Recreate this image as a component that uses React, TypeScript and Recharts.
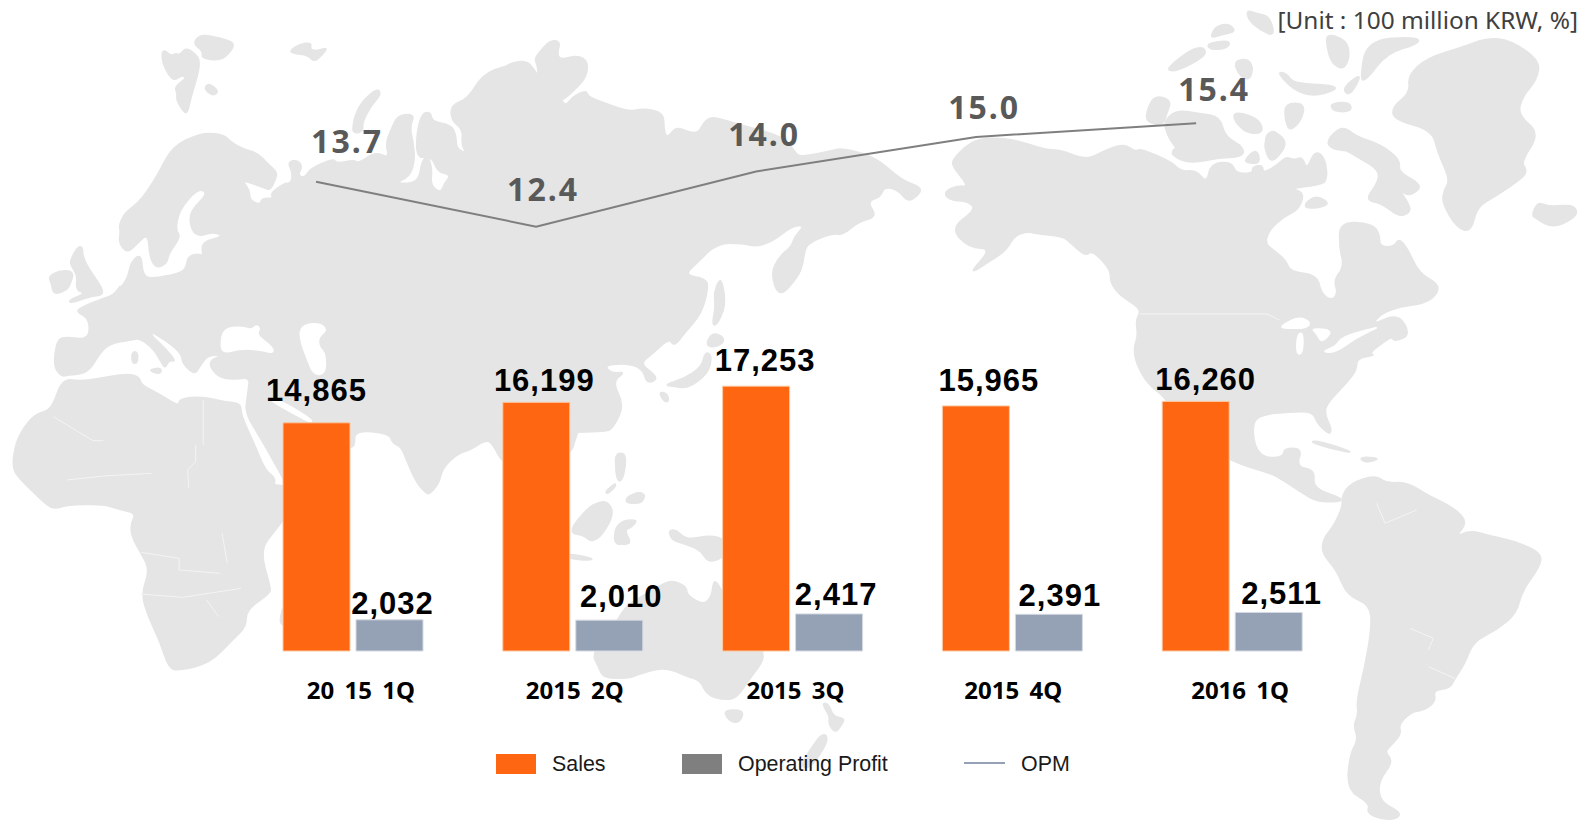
import { Bar, ComposedChart, LabelList, Line, XAxis, YAxis } from "recharts";

// chart values
const quarters = ["20 15 1Q", "2015 2Q", "2015 3Q", "2015 4Q", "2016 1Q"];
const sales = [14865, 16199, 17253, 15965, 16260];
const operatingProfit = [2032, 2010, 2417, 2391, 2511];
const opm = [13.7, 12.4, 14.0, 15.0, 15.4];
const quarterIndex = [0, 1, 2, 3, 4];

// label nudges, the labels in the picture were placed by hand
const salesLabelShift = [[0, -32], [8, -22], [9, -26], [13, -25], [10, -22]];
const profitLabelShift = [[3, -16], [12, -24], [7, -19], [11, -19], [13, -19]];
const opmLabelShift = [[31, -41], [7, -38], [8, -38], [8, -30], [18, -35]];
const tickShift = [8, 2, 3, 1, 8];

const chartData = quarters.map((q, i) => ({
  quarter: q,
  idx: quarterIndex[i],
  sales: sales[i],
  profit: operatingProfit[i],
  opm: opm[i],
}));

const GREY_FONT = "'Noto Sans', sans-serif";
const ARIAL = "'Liberation Sans', Arial, sans-serif";

// background world map, traced by eye, one block per traced area
const mapRegions = [
  {
    // Europe, west Russia
    x: 0, y: 20, sx: 1 / 2.904, sy: 1 / 3,
    land: [
      "345,620 360,580 400,550 430,510 460,460 490,400 520,370 560,350 600,338 650,345 670,365 700,385 750,400 775,430 805,455 800,480 785,510 770,505 700,478 725,510 725,540 755,555 760,535 795,535 785,520 825,490 845,490 850,460 835,425 865,420 878,440 865,465 885,475 900,445 970,415 975,430 1030,420 1040,430 1090,395 1130,415 1120,370 1135,330 1155,285 1205,282 1190,320 1200,370 1205,420 1190,470 1145,490 1215,490 1225,420 1245,410 1255,450 1250,495 1280,520 1290,490 1310,465 1270,455 1255,410 1210,415 1210,340 1225,280 1250,275 1255,305 1310,315 1325,345 1325,385 1355,400 1340,375 1345,330 1310,300 1310,255 1360,235 1400,165 1470,135 1530,145 1560,175 1568,175 1568,1200 780,1200 730,1130 725,1072 690,1078 640,1075 612,1045 610,1020 650,1005 625,1005 600,1010 580,1040 565,1065 530,1030 528,1005 500,975 445,938 438,945 480,985 512,1025 490,1020 480,1045 470,1030 445,985 405,955 380,960 320,970 290,1000 255,1060 195,1065 180,1070 155,1040 165,960 190,950 258,960 260,895 220,875 240,860 300,835 330,825 355,790 330,825 370,780 380,725 410,700 415,770 450,775 520,760 540,745 545,710 575,700 590,710 585,665 650,650 620,635 580,650 555,630 550,575 605,520 575,505 520,570 510,630 525,650 490,700 485,730 455,745 435,715 430,640 400,670 370,700 345,670 350,630",
      "470,95 480,92 497,108 510,100 522,105 540,82 575,108 580,135 570,180 555,230 545,278 535,278 512,240 515,220 508,205 520,190 540,175 530,165 505,182 490,165 472,130",
      "560,70 580,45 615,48 665,62 680,72 670,95 640,122 585,115 590,95",
      "595,200 608,190 635,212 622,228 600,215",
      "842,92 870,72 905,68 900,90 925,92 950,82 940,100 912,127 895,105 850,100",
      "1025,320 1030,290 1050,245 1095,205 1108,222 1075,260 1052,310 1055,330 1040,340 1025,335",
      "205,720 225,680 240,680 240,710 260,750 295,800 300,825 260,830 205,850 200,840 250,820 220,810 225,765 205,735",
      "140,770 175,750 215,755 205,790 195,810 155,825 150,790",
      "383,995 400,995 400,1030 383,1030",
      "428,1050 470,1042 466,1064",
    ],
    water: [
      "640,975 650,925 700,920 730,930 745,915 755,925 745,945 790,980 795,1000 760,990 700,985 650,1000",
      "870,930 890,912 930,910 950,930 925,950 925,980 945,1000 945,1062 910,1065 890,1010 875,970",
    ],
    lines: [],
  },
  {
    // Africa, Arabia, India
    x: 0, y: 390, sx: 1 / 2.904, sy: 1 / 3,
    land: [
      "180,-35 150,60 105,70 70,110 45,160 35,235 60,270 95,305 135,345 160,357 195,345 300,342 345,358 395,370 380,400 382,440 410,490 435,540 410,610 430,680 465,755 490,835 520,842 610,820 680,745 715,710 715,660 785,610 785,590 755,480 800,420 830,380 830,290 810,285 795,285 800,265 770,240 740,165 700,75 700,40 650,35 590,20 520,25 520,50 460,10 410,-15 405,-40 365,-50 240,-25",
      "718,20 725,-35 730,-60 1568,-60 1568,200 1464,230 1430,160 1410,150 1365,180 1330,190 1285,235 1275,280 1250,310 1240,312 1210,280 1180,210 1165,170 1140,160 1130,130 1030,120 1030,170 1016,170 830,290 820,260 800,225 760,150 712,70",
      "812,690 825,640 830,700 818,705",
    ],
    water: ["785,22 830,40 905,88 905,100 860,75 790,35"],
    lines: [
      "590,30 590,165",
      "568,165 568,215 545,240 548,295",
      "155,80 270,152 300,152",
      "195,270 300,258 440,250",
      "410,487 520,505 520,540 640,550",
      "408,612 530,622 700,595",
      "645,430 660,520",
      "600,630 635,680",
    ],
  },
  {
    // Siberia, far east
    x: 440, y: 30, sx: 1 / 2.904, sy: 1 / 3,
    land: [
      "0,1200 100,180 190,103 250,90 275,120 285,140 283,105 275,90 285,70 320,30 350,35 340,70 350,90 400,75 430,95 425,140 400,170 360,210 350,205 365,228 385,200 425,180 430,200 480,220 550,245 590,235 650,248 650,300 660,325 685,290 720,305 750,310 770,270 795,260 840,275 1000,320 1030,365 1045,380 1100,370 1145,360 1165,355 1230,370 1280,395 1340,450 1395,470 1395,490 1360,518 1330,480 1290,470 1280,500 1240,515 1270,560 1215,575 1170,615 1140,610 1090,630 1060,650 1055,700 1040,740 985,805 960,730 985,680 1020,650 1030,620 1060,585 1020,590 965,635 915,650 880,640 805,640 745,700 710,735 770,745 780,770 760,850 710,910 680,950 665,925 620,970 580,1000 620,1030 630,1050 600,1060 590,1020 550,1000 475,1005 500,1030 540,1025 500,1055 535,1125 505,1190 480,1210",
      "795,790 810,750 820,755 830,825 805,885 790,885 800,830",
      "770,950 790,905 830,925 810,950",
      "650,1065 710,1045 760,1010 770,965 790,975 780,1030 720,1075 680,1070",
      "635,1085 660,1090 665,1115 650,1115",
    ],
    water: [],
    lines: [],
  },
  {
    // South East Asia
    x: 250, y: 340, sx: 1 / 3, sy: 1 / 3,
    land: [
      "940,200 1000,230 975,300 965,335 940,340",
      "1095,345 1130,340 1120,420 1100,425",
      "1065,460 1095,430 1097,440 1075,460",
      "1125,480 1165,455 1185,465 1175,490 1135,490",
      "960,580 980,540 1040,480 1090,510 1080,515 1060,560 1030,610 1000,585",
      "1090,590 1110,550 1165,540 1140,565 1120,570 1145,610 1120,610 1100,615",
      "950,640 1030,655 1020,662 950,655",
    ],
    water: [],
    lines: [],
  },
  {
    // New Guinea, Australia, New Zealand
    x: 540, y: 440, sx: 1 / 3, sy: 1 / 3,
    land: [
      "385,270 410,270 440,300 510,285 560,300 560,345 520,365 500,360 480,330 430,310 395,300",
      "250,510 270,490 370,430 400,422 440,440 440,465 490,495 515,470 520,425 530,425 550,460 640,560 672,640 665,670 630,715 590,775 550,780 500,765 480,720 440,710 375,680 290,705 270,715 190,715 175,680 155,640 220,560",
      "553,810 610,810 605,840 585,850 560,835",
      "845,790 865,790 880,830 915,835 905,855 885,880 865,850 870,830",
      "780,980 810,930 845,880 865,890 850,930 810,985",
      "225,40 260,40 250,110 235,125 228,90",
      "195,155 225,130 228,135 205,160",
      "255,175 295,155 318,165 300,190 265,185",
      "110,250 140,210 190,178 220,205 210,250 165,310 120,280",
      "225,265 250,240 300,240 250,265 275,310 240,315 225,300",
    ],
    water: [],
    lines: [],
  },
  {
    // North America
    x: 940, y: 120, sx: 1 / 2.4, sy: 1 / 3,
    land: [
      "30,120 60,80 95,55 160,55 205,70 260,90 290,90 350,120 390,95 440,70 470,95 480,85 555,125 580,155 615,150 640,190 650,130 700,125 710,160 750,160 750,140 775,135 775,160 810,135 830,110 850,120 870,110 880,150 900,90 925,115 930,185 905,195 880,200 845,205 875,220 860,270 825,290 790,330 780,370 800,390 830,420 840,455 905,465 915,520 940,542 955,520 945,480 970,440 958,380 960,305 1035,310 1055,340 1055,380 1090,380 1100,355 1120,380 1150,460 1195,490 1195,520 1165,550 1105,560 1060,580 1035,615 1100,580 1130,645 1090,665 1085,650 1060,670 1030,700 1045,705 1000,715 1000,750 975,790 925,855 925,890 940,925 935,945 905,910 895,875 840,875 770,885 750,910 755,980 780,1015 825,1010 825,985 870,985 855,1040 900,1050 895,1105 965,1135 960,1145 905,1145 870,1120 810,1070 780,1055 700,1025 600,950 540,830 500,795 470,730 465,680 475,650 470,600 480,580 475,560 430,525 408,485 410,450 365,390 350,410 310,365 295,350 225,340 215,335 180,345 160,390 125,420 65,467 125,385 70,385 25,325 85,270 70,245 20,240 10,215 40,197 70,200 30,140",
      "925,65 965,15 1000,50 1060,75 1105,120 1100,155 1150,190 1150,210 1120,230 1095,195 1130,260 1125,280 1100,290 1060,250 1020,240 1050,190 1055,150 1000,110 975,90 945,90",
      "780,60 800,30 830,60 825,90 795,130 780,90",
      "730,120 760,85 770,130 740,130",
      "555,90 600,60 610,80 680,95 730,95 670,115 600,130 560,110",
      "875,250 905,225 940,255 880,268",
      "885,965 910,962 1000,1000 950,990",
      "1005,1010 1060,1015 1020,1030",
      "1420,285 1435,245 1460,260 1500,255 1525,260 1530,290 1470,325 1430,295",
    ],
    water: [
      "815,620 860,590 890,605 880,625 830,625",
      "858,640 872,640 870,702 855,702",
      "890,625 945,630 915,670 905,640",
      "915,695 950,680 965,650 1040,625 1052,622 1000,652 950,698",
      "180,380 190,345 220,340 215,360 190,380",
      "972,125 990,125 990,155 972,155",
    ],
    lines: ["480,582 785,582 815,600"],
  },
  {
    // Arctic islands
    x: 1100, y: 0, sx: 1 / 3, sy: 1 / 3,
    land: [
      "195,360 230,330 300,340 360,350 375,410 430,440 430,470 350,475 290,480 240,460 210,420 195,385",
      "135,350 160,285 215,300 200,340 190,375 150,370",
      "200,205 270,150 310,140 320,165 260,200 215,215",
      "320,130 390,120 385,145 330,150",
      "345,80 385,70 410,95 360,105 330,115",
      "440,30 470,40 510,50 525,110 480,90 445,60",
      "680,100 740,120 750,170 730,210 695,190 680,140",
      "780,240 800,120 950,110 960,130 860,160 800,240",
      "400,185 440,175 460,200 450,240 420,230",
      "530,215 560,220 580,250 700,255 710,270 640,290 580,270",
      "555,310 615,310 605,360 570,395 555,360",
      "725,265 790,215 750,290",
      "690,310 750,305 755,335 700,335",
      "400,340 430,340 480,360 490,400 440,400 405,365",
      "500,400 530,390 555,450 520,465 495,430",
    ],
    water: [],
    lines: [],
  },
  {
    // Greenland, already in page pixels
    x: 0, y: 0, sx: 1, sy: 1,
    land: [
      "1392,107 1410,93 1408,75 1427,58 1463,47 1487,38 1510,40 1540,60 1537,80 1522,97 1518,115 1540,133 1521,162 1527,170 1523,178 1494,197 1477,207 1471,232 1457,228 1442,203 1444,190 1450,180 1438,153 1432,130 1394,120",
    ],
    water: [],
    lines: [],
  },
  {
    // South America
    x: 1150, y: 450, sx: 1 / 3, sy: 1 / 3,
    land: [
      "575,140 600,100 675,75 710,100 770,95 840,140 900,165 955,215 915,262 960,240 1020,258 1100,275 1175,310 1170,350 1115,425 1100,490 1040,540 970,575 945,640 915,685 900,715 850,720 858,755 820,782 785,785 745,825 755,850 720,890 705,905 730,935 685,995 690,1055 750,1085 745,1105 700,1110 650,1090 660,1060 590,1020 600,910 625,870 610,825 625,795 620,750 645,650 665,530 660,465 590,435 560,360 515,310 520,265 550,230 578,170",
    ],
    water: [],
    lines: ["835,600 850,565 780,535", "835,650 915,685", "680,160 705,220 800,180"],
  },
];

// rounds the traced outline so the coast does not look cut with a ruler
function smoothPath(points: string) {
  const pts = points.split(" ").map((p) => p.split(",").map(Number));
  const mid = (a: number[], b: number[]) => `${(a[0] + b[0]) / 2},${(a[1] + b[1]) / 2}`;
  let d = `M${mid(pts[pts.length - 1], pts[0])}`;
  pts.forEach((p, i) => {
    d += ` Q${p[0]},${p[1]} ${mid(p, pts[(i + 1) % pts.length])}`;
  });
  return d + " Z";
}

function WorldMap() {
  const layer = (kind: "land" | "water" | "lines") =>
    mapRegions.map((r, i) => (
      <g key={kind + i} transform={`translate(${r.x},${r.y}) scale(${r.sx},${r.sy})`}>
        {r[kind].map((pts, j) =>
          kind === "lines" ? (
            <polyline key={j} points={pts} fill="none" stroke="#f4f4f4" strokeWidth={1} vectorEffect="non-scaling-stroke" />
          ) : (
            <path
              key={j}
              d={smoothPath(pts)}
              fill={kind === "land" ? "#e5e5e5" : "#ffffff"}
              stroke={kind === "land" ? "#e5e5e5" : "#ffffff"}
              strokeWidth={1.5}
              strokeLinejoin="round"
              vectorEffect="non-scaling-stroke"
            />
          )
        )}
      </g>
    ));
  return (
    <svg width={1593} height={822} style={{ position: "absolute", left: 0, top: 0 }}>
      {layer("land")}
      {layer("water")}
      {layer("lines")}
    </svg>
  );
}

function barLabel(shift: number[][]) {
  return (props: any) => {
    const { x, y, width, value, index } = props;
    return (
      <text
        x={x + width / 2 + shift[index][0]}
        y={y + shift[index][1]}
        textAnchor="middle"
        dominantBaseline="central"
        fontFamily={ARIAL}
        fontWeight={700}
        fontSize={31}
        letterSpacing={1}
        fill="#000000"
      >
        {value.toLocaleString("en-US")}
      </text>
    );
  };
}

function OpmLabel(props: any) {
  const { x, y, value, index } = props;
  return (
    <text
      x={x + opmLabelShift[index][0]}
      y={y + opmLabelShift[index][1]}
      textAnchor="middle"
      dominantBaseline="central"
      fontFamily={GREY_FONT}
      fontWeight={700}
      fontSize={32}
      letterSpacing={2}
      fill="#595959"
    >
      {value.toFixed(1)}
    </text>
  );
}

function QuarterTick(props: any) {
  const { x, y, payload, index } = props;
  return (
    <text
      x={x + tickShift[index]}
      y={y + 30}
      textAnchor="middle"
      dominantBaseline="central"
      fontFamily={GREY_FONT}
      fontWeight={700}
      fontSize={24}
      wordSpacing={4}
      fill="#000000"
    >
      {payload.value}
    </text>
  );
}

function LegendText({ left, children }: { left: number; children: string }) {
  return (
    <div
      style={{
        position: "absolute",
        left,
        top: 751,
        fontFamily: ARIAL,
        fontSize: 21.4,
        lineHeight: "26px",
        color: "#1a1a1a",
        whiteSpace: "nowrap",
      }}
    >
      {children}
    </div>
  );
}

export default function App() {
  return (
    <div style={{ position: "absolute", left: 0, top: 0, width: 1593, height: 822, background: "#fff", overflow: "hidden" }}>
      <WorldMap />
      <div style={{ position: "absolute", left: 0, top: 0 }}>
        <ComposedChart
          width={1593}
          height={822}
          data={chartData}
          barSize={67}
          barGap={6}
          margin={{ top: 50, right: 251, bottom: 111, left: 243 }}
        >
          <XAxis
            xAxisId="band"
            dataKey="quarter"
            height={60}
            axisLine={false}
            tickLine={false}
            interval={0}
            tick={<QuarterTick />}
          />
          {/* the line sits left of the bars in the picture, so it gets its own x scale */}
          <XAxis xAxisId="opm" type="number" dataKey="idx" domain={[-0.332, 4.663]} hide />
          <YAxis yAxisId="amount" domain={[0, 39150]} hide />
          <YAxis yAxisId="pct" domain={[0.1, 17.52]} hide />
          <Bar xAxisId="band" yAxisId="amount" dataKey="sales" fill="#ff6611" stroke="#fbc9a4" strokeWidth={1} isAnimationActive={false}>
            <LabelList dataKey="sales" content={barLabel(salesLabelShift)} />
          </Bar>
          <Bar xAxisId="band" yAxisId="amount" dataKey="profit" fill="#95a1b5" stroke="#d5dae3" strokeWidth={1} isAnimationActive={false}>
            <LabelList dataKey="profit" content={barLabel(profitLabelShift)} />
          </Bar>
          <Line
            xAxisId="opm"
            yAxisId="pct"
            dataKey="opm"
            type="linear"
            stroke="#7f7f7f"
            strokeWidth={2}
            dot={false}
            isAnimationActive={false}
          >
            <LabelList dataKey="opm" content={<OpmLabel />} />
          </Line>
        </ComposedChart>
      </div>

      <div
        style={{
          position: "absolute",
          right: 15,
          top: 4,
          fontFamily: GREY_FONT,
          fontSize: 24.4,
          lineHeight: "32px",
          color: "#404040",
          whiteSpace: "nowrap",
        }}
      >
        [Unit : 100 million KRW, %]
      </div>

      <div style={{ position: "absolute", left: 496, top: 754, width: 40, height: 20, background: "#ff6611" }} />
      <LegendText left={552}>Sales</LegendText>
      <div style={{ position: "absolute", left: 682, top: 754, width: 40, height: 20, background: "#7f7f7f" }} />
      <LegendText left={738}>Operating Profit</LegendText>
      <div style={{ position: "absolute", left: 964, top: 762, width: 41, height: 2, background: "#95a1b5" }} />
      <LegendText left={1021}>OPM</LegendText>
    </div>
  );
}
